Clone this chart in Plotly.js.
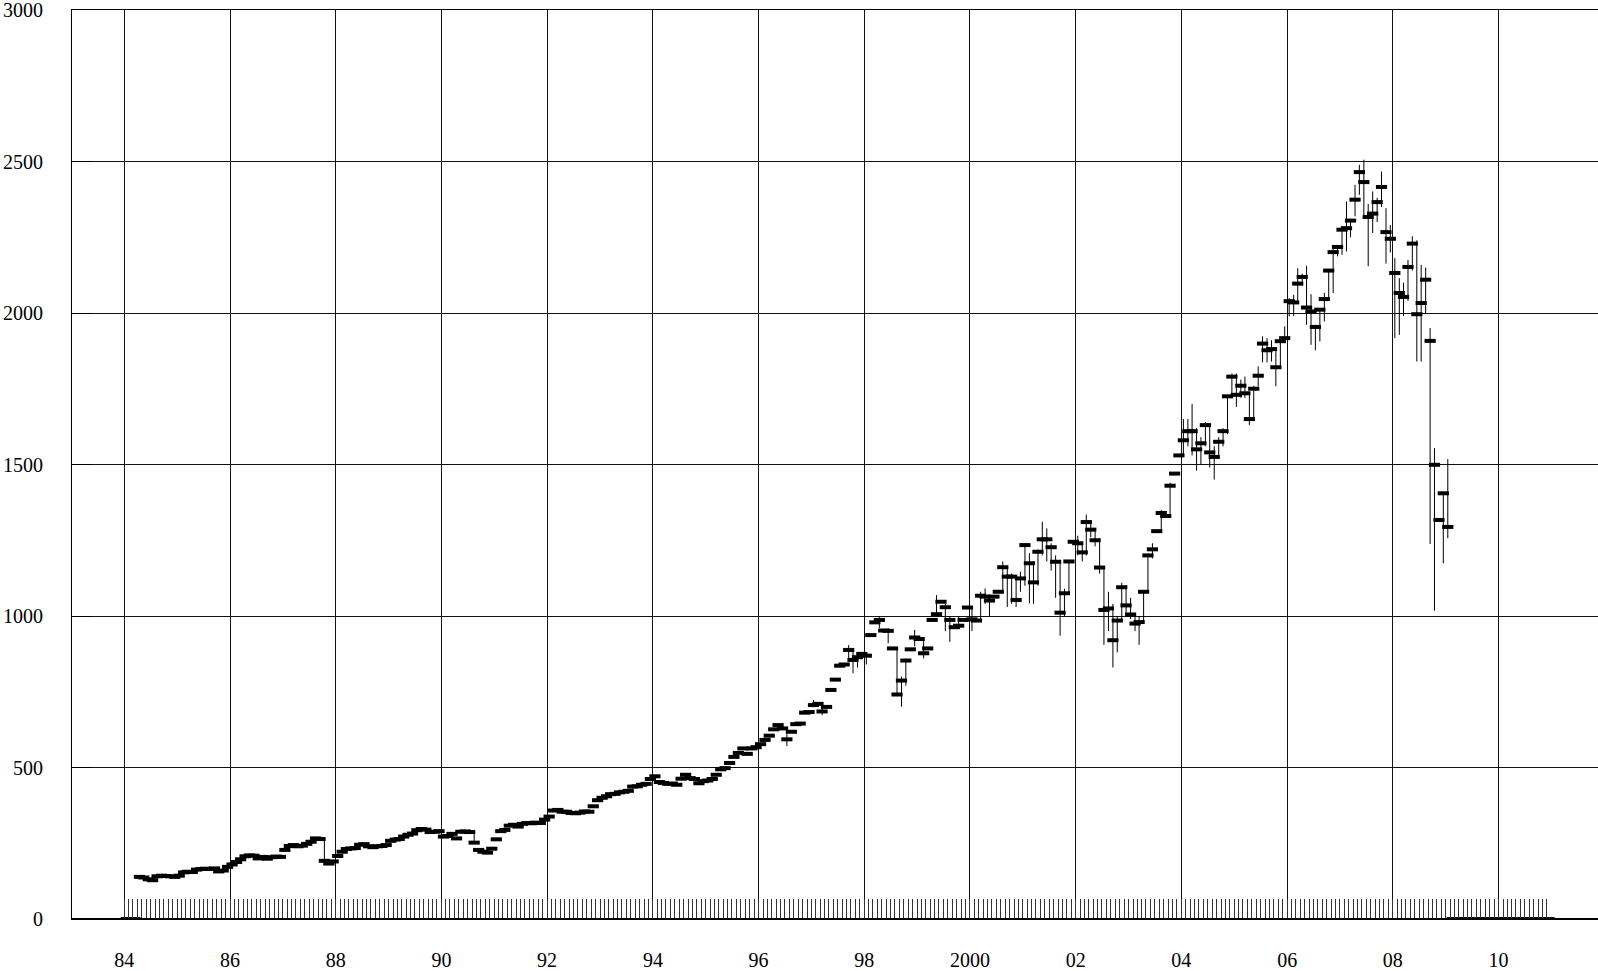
<!DOCTYPE html>
<html>
<head>
<meta charset="utf-8">
<script src="https://cdn.plot.ly/plotly-3.0.1.min.js"></script>
<style>
html,body{margin:0;padding:0;background:#fff;overflow:hidden}
#chart{width:1598px;height:971px}
</style>
</head>
<body>
<div id="chart"></div>
<script>
// Monthly series, Jan 1984 .. Dec 2010 (0 = no data that month)
const firstYear = 1984;
const lastYear = 2010;
const closeValues = [
  0,0,0,139,137,131,128,141,143,142,141,139,                 // 1984
  143,154,156,155,163,165,166,165,167,157,160,172,           // 1985
  180,188,197,207,210,209,200,205,199,204,206,205,           // 1986
  228,241,244,240,242,248,255,266,264,192,183,190,           // 1987
  208,222,231,233,234,245,247,240,237,240,241,244,           // 1988
  258,262,264,272,278,282,293,297,295,287,288,290,           // 1989
  272,274,281,266,288,289,287,252,228,222,219,232,           // 1990
  263,290,294,308,311,305,314,317,316,318,317,328,           // 1991
  338,358,360,354,354,350,349,351,355,354,372,392,           // 1992
  400,405,412,413,418,420,423,437,438,443,446,462,           // 1993
  471,452,449,446,447,443,463,476,465,462,448,455,           // 1994
  457,462,476,494,498,515,535,548,563,545,563,567,           // 1995
  577,591,605,626,640,629,593,618,643,645,681,683,           // 1996
  706,710,685,700,756,790,836,840,888,855,864,875,           // 1997
  869,937,979,987,952,951,893,741,787,853,890,929,           // 1998
  924,877,893,987,1006,1047,1029,987,963,968,987,1028,       // 1999
  989,985,1067,1064,1051,1064,1080,1161,1130,1130,1053,1124, // 2000
  1234,1174,1111,1212,1253,1253,1227,1179,1011,1075,1180,1245, // 2001
  1240,1210,1310,1285,1250,1160,1020,1025,920,985,1095,1035, // 2002
  1005,975,980,1080,1200,1220,1280,1340,1330,1430,1470,1530, // 2003
  1580,1610,1610,1550,1570,1630,1540,1525,1575,1610,1725,1790, // 2004
  1730,1760,1735,1650,1750,1793,1899,1877,1881,1821,1907,1917, // 2005
  2039,2035,2097,2119,2018,2005,1954,2011,2046,2140,2201,2218, // 2006
  2275,2280,2305,2374,2465,2432,2317,2328,2366,2416,2267,2245, // 2007
  2132,2066,2053,2152,2229,1996,2033,2110,1908,1499,1317,1405, // 2008
  1294,0,0,0,0,0,0,0,0,0,0,0,                                // 2009
  0,0,0,0,0,0,0,0,0,0,0,0                                    // 2010
];

// Monthly high / low ranges where a visible range line is drawn
const wickMonths = [
  '1987-10','1990-08','1996-07','1997-01','1997-03','1997-09','1997-10','1997-11',
  '1998-01','1998-04','1998-06','1998-08','1998-09','1998-10','1998-12',
  '1999-02','1999-05','1999-07','1999-08','1999-10',
  '2000-01','2000-03','2000-04','2000-05','2000-08','2000-09','2000-10','2000-11','2000-12',
  '2001-01','2001-02','2001-03','2001-04','2001-05','2001-06','2001-07','2001-08','2001-09','2001-10','2001-11',
  '2002-01','2002-02','2002-03','2002-04','2002-05','2002-06','2002-07','2002-08','2002-09','2002-10','2002-11','2002-12',
  '2003-01','2003-02','2003-03','2003-04','2003-05','2003-06','2003-08','2003-10',
  '2004-01','2004-02','2004-03','2004-04','2004-05','2004-06','2004-07','2004-08','2004-09','2004-10','2004-11','2004-12',
  '2005-01','2005-02','2005-03','2005-04','2005-05','2005-06','2005-07','2005-08','2005-09','2005-10','2005-11','2005-12',
  '2006-01','2006-02','2006-03','2006-04','2006-05','2006-06','2006-07','2006-08','2006-09','2006-10','2006-11','2006-12',
  '2007-01','2007-02','2007-03','2007-04','2007-05','2007-06','2007-07','2007-08','2007-09','2007-10','2007-11','2007-12',
  '2008-01','2008-02','2008-03','2008-04','2008-05','2008-06','2008-07','2008-08','2008-09','2008-10','2008-12','2009-01'
];
const wickHigh = [
  266,288,630,723,712,904,890,872,
  880,998,960,895,800,860,954,
  930,1069,1040,1000,1000,
  1028,1080,1091,1070,1180,1160,1140,1130,1146,
  1240,1207,1180,1220,1311,1289,1240,1200,1180,1090,1185,
  1265,1240,1335,1310,1290,1255,1165,1080,1040,1000,1110,1100,
  1060,1010,1000,1085,1205,1240,1350,1440,
  1650,1650,1700,1620,1590,1640,1630,1560,1590,1620,1730,1800,
  1800,1780,1790,1740,1760,1824,1923,1917,1910,1880,1910,1956,
  2049,2060,2148,2130,2156,2062,1961,2016,2066,2143,2211,2225,
  2280,2368,2310,2423,2489,2506,2360,2401,2380,2467,2346,2290,
  2181,2115,2100,2175,2253,2240,2159,2150,1950,1554,1405,1518
];
const wickLow = [
  178,250,571,700,673,860,811,830,
  840,960,910,735,701,770,900,
  860,1000,950,915,960,
  950,980,1040,1000,1075,1030,1040,1030,1080,
  1100,1042,1040,1100,1200,1180,1150,1060,935,1000,1070,
  1200,1180,1200,1260,1230,1140,905,950,830,880,980,1000,
  990,950,905,975,1080,1190,1280,1330,
  1530,1560,1530,1480,1500,1560,1490,1450,1520,1560,1600,1720,
  1690,1720,1720,1630,1650,1757,1837,1837,1840,1758,1820,1912,
  1989,1990,2030,2090,1961,1895,1877,1906,1972,2040,2066,2187,
  2192,2203,2250,2319,2390,2320,2154,2264,2300,2350,2163,2200,
  1917,1928,1990,2040,2140,1840,1840,2000,1238,1018,1174,1257
];

const xTickYears = [1984,1986,1988,1990,1992,1994,1996,1998,2000,2002,2004,2006,2008,2010];
const xTickText  = ['84','86','88','90','92','94','96','98','2000','02','04','06','08','10'];
const yTickValues = [0,500,1000,1500,2000,2500,3000];

// month positions (bar drawn at mid-month, tick at month start)
const monthStarts = [];
const monthMids = [];
for (let y = firstYear; y <= lastYear; y++) {
  for (let m = 1; m <= 12; m++) {
    const mm = String(m).padStart(2, '0');
    monthStarts.push(y + '-' + mm + '-01');
    monthMids.push(y + '-' + mm + '-15');
  }
}

const wx = [], wy = [];
wickMonths.forEach((m, k) => {
  wx.push(m + '-15', m + '-15', null);
  wy.push(wickLow[k], wickHigh[k], null);
});

const xRange = ['1983-01-05', '2011-11-19'];

const traces = [
  {
    type: 'scatter', mode: 'lines', x: wx, y: wy, xaxis: 'x2', yaxis: 'y',
    line: {color: '#000', width: 1}, hoverinfo: 'skip', connectgaps: false
  },
  {
    type: 'scatter', mode: 'markers', x: monthMids, y: closeValues,
    marker: {symbol: 'line-ew', size: 8, color: '#000', line: {color: '#000', width: 4}},
    hoverinfo: 'x+y'
  }
];

const fontFamily = '"Liberation Serif", "Times New Roman", Times, serif';

const layout = {
  width: 1598, height: 971,
  margin: {l: 72, r: 0, t: 10, b: 52, pad: 0},
  paper_bgcolor: '#fff', plot_bgcolor: '#fff',
  showlegend: false,
  font: {family: fontFamily, size: 20, color: '#000'},
  xaxis: {
    type: 'date', range: xRange,
    tickmode: 'array',
    tickvals: xTickYears.map(y => y + '-01-01'),
    ticktext: xTickText,
    showgrid: true, gridcolor: '#111', gridwidth: 1,
    ticks: '', showline: true, linecolor: '#000', linewidth: 1, mirror: true,
    zeroline: false, ticklabelstandoff: 23, ticklabeloverflow: 'allow',
    tickfont: {family: fontFamily, size: 20, color: '#000'}
  },
  xaxis2: {
    type: 'date', range: xRange, overlaying: 'x', anchor: 'y', side: 'bottom',
    tickmode: 'array', tickvals: monthStarts,
    ticks: 'inside', ticklen: 20, tickwidth: 1, tickcolor: '#333',
    showticklabels: false, showgrid: false, showline: false, zeroline: false
  },
  yaxis: {
    range: [0, 3000],
    tickmode: 'array', tickvals: yTickValues,
    showgrid: true, gridcolor: '#111', gridwidth: 1,
    ticks: 'inside', ticklen: 20, tickwidth: 1, tickcolor: '#000',
    showline: true, linecolor: '#000', linewidth: 1,
    zeroline: false, ticklabelstandoff: 24, ticklabeloverflow: 'allow',
    tickfont: {family: fontFamily, size: 20, color: '#000'}
  },
  shapes: [
    {type: 'line', xref: 'paper', yref: 'paper', x0: 0, x1: 1, y0: 0, y1: 0,
     line: {color: '#000', width: 2}}
  ]
};

Plotly.newPlot('chart', traces, layout, {displayModeBar: false, staticPlot: true});
</script>
</body>
</html>
